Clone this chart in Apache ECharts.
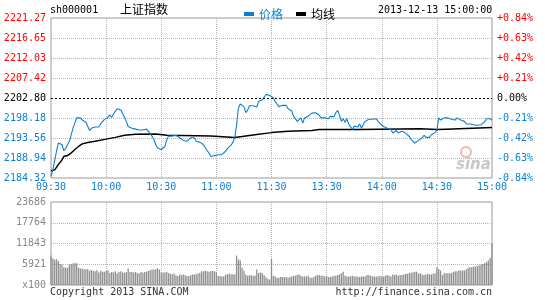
<!DOCTYPE html>
<html><head><meta charset="utf-8">
<script src="https://cdn.jsdelivr.net/npm/echarts@6/dist/echarts.min.js"></script>
<style>html,body{margin:0;padding:0;background:#fff}#c{width:545px;height:300px}</style>
</head><body><div id="c"></div>
<script>
// ---- tick labels ----
const priceTicks = ['2184.32','2188.94','2193.56','2198.18','2202.80','2207.42','2212.03','2216.65','2221.27'];
const pctTicks   = ['-0.84%','-0.63%','-0.42%','-0.21%','0.00%','+0.21%','+0.42%','+0.63%','+0.84%'];
const volTicks   = ['x100','5921','11843','17764','23686'];
const timeTicks  = ['09:30','10:00','10:30','11:00','11:30','13:30','14:00','14:30','15:00'];

// ---- categories: trading minutes ----
const times = [];
function pushRange(h0,m0,h1,m1){let h=h0,m=m0;while(h<h1||(h===h1&&m<=m1)){times.push(String(h).padStart(2,'0')+':'+String(m).padStart(2,'0'));m++;if(m===60){m=0;h++;}}}
pushRange(9,30,11,30);
pushRange(13,1,15,0);

// ---- series: price per minute ----
const priceVals = [
2184.7,2186.2,2186.2,2190.5,2192.4,2192.6,2192.0,2190.6,2191.2,2192.0,
2192.8,2194.3,2195.9,2197.0,2198.2,2198.4,2198.2,2197.7,2197.5,2197.2,
2196.8,2195.3,2195.8,2195.6,2196.1,2195.7,2196.1,2196.8,2197.2,2197.8,
2198.0,2198.3,2198.9,2198.3,2199.1,2199.7,2200.3,2200.3,2200.0,2199.2,
2198.8,2197.4,2196.2,2195.8,2195.8,2196.0,2195.6,2196.0,2195.4,2195.8,
2195.4,2195.8,2195.6,2195.1,2194.6,2194.2,2193.2,2192.0,2191.3,2191.1,
2190.9,2191.3,2191.6,2193.2,2194.0,2193.9,2194.0,2194.3,2194.2,2194.3,
2193.6,2193.4,2193.0,2192.8,2192.8,2193.2,2193.6,2193.4,2193.6,2192.8,
2193.0,2192.6,2192.2,2192.0,2191.3,2190.6,2190.1,2189.3,2189.3,2189.5,
2189.7,2189.7,2189.5,2189.7,2189.7,2190.5,2191.1,2191.4,2191.9,2192.6,
2193.6,2196.5,2200.5,2201.4,2201.1,2200.8,2199.4,2200.0,2201.0,2201.1,
2201.0,2200.6,2200.7,2202.0,2202.3,2202.4,2202.6,2203.6,2203.7,2203.4,
2203.8,
2202.8,2202.0,2201.4,2200.8,2201.0,2201.1,2200.8,2201.1,2200.3,2200.4,
2199.8,2198.6,2198.2,2197.4,2197.6,2198.2,2197.0,2198.2,2197.9,2198.6,
2198.5,2199.3,2198.9,2199.4,2199.3,2198.8,2198.2,2198.5,2198.2,2198.4,
2198.0,2198.5,2198.9,2198.5,2199.4,2199.9,2198.9,2197.4,2198.0,2197.2,
2198.0,2196.8,2196.2,2195.5,2196.3,2196.6,2196.1,2196.8,2195.8,2196.8,
2197.4,2197.7,2197.9,2197.7,2197.9,2197.5,2198.0,2197.4,2196.9,2196.6,
2196.2,2195.8,2195.8,2195.7,2195.5,2194.7,2195.0,2195.3,2194.7,2194.7,
2195.1,2195.3,2194.7,2194.7,2193.9,2193.2,2192.8,2192.4,2192.6,2193.0,
2193.4,2193.6,2194.2,2193.7,2193.9,2193.7,2194.3,2194.3,2194.8,2195.3,
2198.2,2197.7,2198.0,2198.2,2198.0,2198.2,2198.4,2197.9,2198.2,2197.7,
2198.2,2197.9,2197.7,2197.4,2197.4,2196.8,2196.8,2196.8,2196.6,2196.6,
2196.5,2196.5,2196.8,2196.6,2196.9,2197.3,2198.0,2198.1,2198.0,2197.7
];

// ---- series: average price, read at selected minutes ----
const avgMinuteIdx = [0,2,4,6,7,9,11,13,15,17,18,20,24,30,35,40,46,57,58,63,64,87,88,100,104,111,120,129,142,146,168,169,201,202,210,211,215,216,240];
const avgVals = [2186.0,2186.2,2187.4,2188.5,2189.3,2189.5,2190.1,2190.9,2191.6,2192.2,2192.3,2192.5,2192.8,2193.3,2193.7,2194.2,2194.4,2194.5,2194.2,2194.2,2194.0,2194.0,2193.8,2193.7,2193.9,2194.3,2194.8,2195.1,2195.3,2195.5,2195.5,2195.7,2195.7,2195.5,2195.5,2195.6,2195.6,2195.9,2196.0];

// ---- series: volume per minute (x100) ----
const volVals = [
8400,7600,7200,7400,6800,6000,5800,5100,4900,4900,
5800,6000,6200,6200,6200,4900,4700,4700,4500,4500,
4500,4100,4300,4000,3900,4200,3600,4100,3800,3800,
4000,4200,3400,3700,3600,3900,3300,3700,3900,3600,
3500,3700,4700,3700,3700,3600,3700,3400,3300,3700,
3500,3700,3800,4000,4200,4400,4400,4500,4800,4400,
3600,3600,3600,3800,3400,3200,3100,3300,2800,2600,
3000,2800,3000,2800,2600,2600,2800,3000,3000,3100,
3300,3500,3900,3900,4100,3900,3800,4000,4000,3900,
3600,2600,2600,2400,2400,2900,3100,3200,3100,3100,
3000,8400,7300,7000,4900,4100,3000,2600,2800,2800,
2600,2700,4400,3400,3600,3400,2800,2200,1700,1600,
7400,
2630,2440,2070,2070,2250,2250,2250,2250,2070,2250,
2440,2630,2630,2820,3010,2630,2440,2440,2440,2630,
2070,2070,2250,2630,2820,2820,2630,2630,2440,2440,
2250,2250,2440,2630,2630,2820,3010,3380,3760,2630,
2440,2440,2440,2630,2440,2440,2440,2250,2440,2440,
2440,2820,2820,2630,2440,2440,2440,2440,2630,2440,
2440,2630,2820,2630,2440,3010,2820,3010,2630,2820,
2820,3010,3200,3200,3380,3570,3570,3760,3760,3200,
3380,3010,2820,3010,3200,3010,3010,3200,3380,5080,
4510,4140,2820,3380,3380,3380,3380,3380,3760,3950,
3950,4140,4140,4140,4140,4510,4890,5080,5080,5260,
5260,5450,5640,5830,6010,6200,6580,6960,7710,11900
];

const MONO = 'DejaVu Sans Mono';
const CJK = 'Noto Sans CJK SC';
const BLUE = '#0a7fd4', RED = '#ff0000', GRID = '#b4b4b4', BORDER = '#999';
const pMin = +priceTicks[0], pMax = +priceTicks[priceTicks.length-1];
const pStep = (pMax - pMin) / (priceTicks.length - 1);
const PREV = +priceTicks[4];
const vMax = +volTicks[volTicks.length-1], vStep = vMax / (volTicks.length - 1);
const pIdx = v => Math.round((v - pMin) / pStep);
const cls = i => i > 4 ? 'r' : (i < 4 ? 'b' : 'k');
const rich = {
  r:{color:RED,fontFamily:MONO,fontSize:10},
  k:{color:'#000',fontFamily:MONO,fontSize:10},
  b:{color:BLUE,fontFamily:MONO,fontSize:10}
};
const T = 'rgba(0,0,0,0)';
const hLines = priceTicks.map((_, i) => (i === 0 || i === 4 || i === priceTicks.length-1) ? T : GRID);
const vLines = volTicks.map((_, i) => (i === 0 || i === volTicks.length-1) ? T : GRID);
const isTick = (i, v) => timeTicks.includes(v);
const isInnerTick = (i, v) => timeTicks.includes(v) && i > 0 && i < times.length - 1;

const avgData = avgMinuteIdx.map((m, k) => [m, avgVals[k]]);

const chart = echarts.init(document.getElementById('c'), null, {renderer:'canvas'});
chart.setOption({
  animation:false,
  backgroundColor:'#fff',
  legend:{
    left:239, top:3, icon:'rect', itemWidth:10, itemHeight:4, itemGap:13, selectedMode:false,
    textStyle:{fontFamily:CJK, fontSize:12},
    data:[{name:'价格', textStyle:{color:BLUE}}, {name:'均线', textStyle:{color:'#000'}}]
  },
  grid:[
    {left:51, right:53, top:18, height:160, show:true, borderColor:BORDER, borderWidth:1, outerBoundsMode:'none'},
    {left:51, right:53, top:202, height:83, show:true, borderColor:BORDER, borderWidth:1, outerBoundsMode:'none'}
  ],
  xAxis:[
    {type:'category', gridIndex:0, data:times, boundaryGap:false,
     axisLine:{show:false}, axisTick:{show:false},
     axisLabel:{interval:isTick, color:BLUE, fontFamily:MONO, fontSize:10, margin:4},
     splitLine:{show:true, interval:isInnerTick, lineStyle:{color:GRID, type:[1,1], width:1}}},
    {type:'category', gridIndex:1, data:times, boundaryGap:false,
     axisLine:{show:false}, axisTick:{show:false}, axisLabel:{show:false},
     splitLine:{show:true, interval:isInnerTick, lineStyle:{color:GRID, type:[1,1], width:1}}}
  ],
  yAxis:[
    {type:'value', gridIndex:0, min:pMin, max:pMax, interval:pStep, scale:true,
     axisLine:{show:false}, axisTick:{show:false},
     axisLabel:{margin:5, formatter:v => { const i = pIdx(v); return '{' + cls(i) + '|' + priceTicks[i] + '}'; }, rich:rich},
     splitLine:{show:true, lineStyle:{color:hLines, type:[1,1], width:1}}},
    {type:'value', gridIndex:0, position:'right', min:pMin, max:pMax, interval:pStep, scale:true,
     axisLine:{show:false}, axisTick:{show:false},
     axisLabel:{margin:5, formatter:v => { const i = pIdx(v); return '{' + cls(i) + '|' + pctTicks[i] + '}'; }, rich:rich},
     splitLine:{show:false}},
    {type:'value', gridIndex:1, min:0, max:vMax, interval:vStep,
     axisLine:{show:false}, axisTick:{show:false},
     axisLabel:{margin:5, color:'#888', fontFamily:MONO, fontSize:10,
       formatter:v => volTicks[Math.round(v / vStep)]},
     splitLine:{show:true, lineStyle:{color:vLines, type:[1,1], width:1}}}
  ],
  series:[
    {name:'价格', type:'line', xAxisIndex:0, yAxisIndex:0, data:priceVals, symbol:'none',
     color:BLUE, lineStyle:{color:BLUE, width:1.1}, z:3,
     markLine:{silent:true, symbol:'none', animation:false, label:{show:false},
       lineStyle:{color:'#000', type:[2,2], width:1}, data:[{yAxis:PREV}]}},
    {name:'均线', type:'line', xAxisIndex:0, yAxisIndex:0, data:avgData, symbol:'none',
     color:'#000', lineStyle:{color:'#000', width:1.5}, z:2},
    {name:'成交量', type:'bar', xAxisIndex:1, yAxisIndex:2, data:volVals, barWidth:1.3,
     itemStyle:{color:'#8f8f8f'}}
  ],
  graphic:[
    {type:'text', left:50, top:5, style:{text:'sh000001', fontFamily:MONO, fontSize:10, fill:'#000'}},
    {type:'text', left:120, top:3, style:{text:'上证指数', fontFamily:CJK, fontSize:12, fill:'#000'}},
    {type:'text', left:378, top:5, style:{text:'2013-12-13 15:00:00', fontFamily:MONO, fontSize:10, fill:'#000'}},
    {type:'text', left:50, top:287, style:{text:'Copyright 2013 SINA.COM', fontFamily:MONO, fontSize:10, fill:'#333'}},
    {type:'text', right:53, top:287, style:{text:'http://finance.sina.com.cn', fontFamily:MONO, fontSize:10, fill:'#333'}},
    {type:'circle', shape:{cx:466, cy:152, r:5}, style:{fill:'none', stroke:'#f5b5b5', lineWidth:2}, z:1},
    {type:'text', left:456, top:158, style:{text:'sina', fontFamily:'DejaVu Sans', fontSize:15, fontWeight:'bold', fontStyle:'italic', fill:'#c8c8c8'}, z:1}
  ]
});
</script>
</body></html>
